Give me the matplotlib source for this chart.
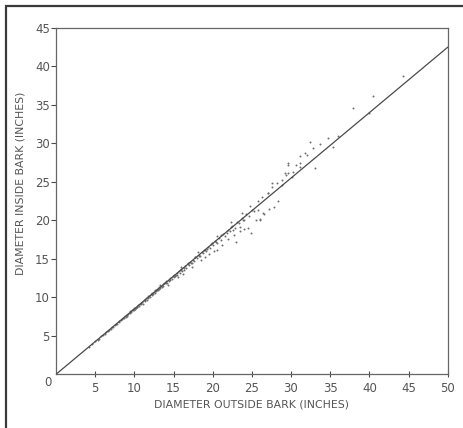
import numpy as np
import matplotlib.pyplot as plt
from matplotlib.patches import Rectangle

# fitted line  d.i.b. = 0.85 * d.o.b.
line_x = [0, 50]
line_y = [0, 42.5]

dob = [
    4.2, 4.6, 5.0, 5.3, 5.5, 5.8, 6.0, 6.2, 6.4, 6.6, 6.8, 7.0, 7.1, 7.3, 7.5,
    7.6, 7.8, 8.0, 8.1, 8.3, 8.4, 8.5, 8.7, 8.8, 9.0, 9.1, 9.2, 9.4, 9.5, 9.6,
    9.8, 9.9, 10.0, 10.1, 10.3, 10.4, 10.5, 10.6, 10.8, 10.9, 11.0, 11.1, 11.2,
    11.3, 11.5, 11.6, 11.7, 11.8, 12.0, 12.1, 12.2, 12.3, 12.4, 12.5, 12.6,
    12.7, 12.8, 12.9, 13.0, 13.1, 13.2, 13.4, 13.5, 13.6, 13.7, 13.8, 14.0,
    14.1, 14.2, 14.4, 14.5, 14.6, 14.8, 15.0, 15.1, 15.2, 15.4, 15.5, 15.7,
    15.8, 16.0, 16.1, 16.3, 16.5, 16.6, 16.8, 17.0, 17.1, 17.3, 17.5, 17.6,
    17.8, 18.0, 18.2, 18.4, 18.6, 18.8, 19.0, 19.2, 19.4, 19.6, 19.8, 20.0,
    20.3, 20.5, 20.8, 21.0, 21.3, 21.6, 21.9, 22.2, 22.5, 22.8, 23.1, 23.4,
    23.7, 24.0, 24.3, 24.6, 25.0, 25.3,
    14.3, 15.6, 16.2, 17.4, 18.5, 19.0, 19.5, 20.2, 20.5, 21.2, 22.0, 22.7,
    23.5, 23.0, 24.5, 24.9, 25.5, 26.0, 26.6, 27.2, 27.8, 28.3, 24.0,
    13.3, 15.9, 18.1, 20.6, 22.4, 23.8, 24.8, 25.8, 26.3, 27.0, 27.6, 28.2,
    28.8, 29.3, 29.6, 30.2, 30.6, 31.2,
    29.2, 29.6, 30.1, 31.1, 31.8, 32.0, 32.4, 32.8, 33.1, 33.7, 34.7, 35.4,
    36.0, 37.9, 39.9, 40.5, 44.3, 29.6, 31.1, 27.6, 28.8, 27.1, 25.8, 26.4,
    26.0, 23.9, 23.5, 22.6,
    8.9, 9.7, 10.2, 10.7, 11.4, 11.9, 12.3, 12.9, 13.3, 13.9, 14.4, 14.9,
    15.3, 15.9, 16.4, 16.9, 17.2, 17.7, 18.3, 18.9, 19.3, 19.9, 20.4, 21.1,
    21.8, 22.3,
]
dib = [
    3.6, 3.9, 4.3, 4.5, 4.6, 5.0, 5.1, 5.2, 5.5, 5.6, 5.8, 5.9, 6.1, 6.2, 6.4,
    6.5, 6.6, 6.9, 6.8, 7.1, 7.2, 7.3, 7.3, 7.6, 7.7, 7.6, 7.9, 8.0, 8.2, 8.1,
    8.4, 8.3, 8.6, 8.5, 8.8, 8.7, 9.0, 8.9, 9.3, 9.1, 9.4, 9.2, 9.6,
    9.5, 9.9, 9.7, 9.9, 10.2, 10.1, 10.4, 10.3, 10.6, 10.4, 10.7, 10.6,
    10.9, 10.8, 11.1, 11.0, 11.3, 11.1, 11.5, 11.4, 11.7, 11.5, 11.9, 11.8,
    12.1, 11.9, 12.3, 12.2, 12.5, 12.4, 12.9, 12.6, 12.8, 13.2, 12.9, 13.4,
    13.2, 13.7, 13.4, 13.6, 14.1, 13.8, 14.3, 14.2, 14.6, 14.5, 14.9, 14.7,
    15.2, 15.1, 15.5, 15.4, 15.9, 15.7, 16.2, 16.0, 16.6, 16.4, 16.9, 16.8,
    17.3, 17.1, 17.7, 17.5, 18.2, 18.0, 18.7, 18.6, 19.3, 19.0, 19.8, 19.6,
    20.3, 20.1, 20.8, 20.6, 21.4, 21.2,
    11.6, 12.6, 13.0, 14.0, 14.8, 15.3, 15.6, 16.0, 16.2, 16.8, 17.6, 18.1,
    18.6, 17.2, 19.0, 18.3, 20.0, 20.2, 20.8, 21.5, 21.7, 22.5, 18.9,
    11.6, 13.9, 15.9, 18.0, 19.8, 21.0, 21.9, 22.5, 23.1, 23.5, 24.3, 24.8,
    25.3, 25.9, 26.2, 26.3, 27.2, 27.4,
    26.2, 27.2, 25.7, 28.4, 28.8, 28.5, 30.2, 29.4, 26.8, 29.9, 30.7, 29.5,
    31.0, 34.6, 33.9, 36.2, 38.8, 27.5, 27.0, 24.9, 24.6, 23.5, 21.3, 20.9,
    20.0, 20.0, 19.2, 18.8,
    7.4, 8.4, 8.6, 9.2, 9.6, 10.2, 10.4, 11.0, 11.2, 11.9, 12.1, 12.8,
    12.9, 13.6, 13.8, 14.5, 14.4, 15.2, 15.4, 16.2, 16.3, 17.1, 17.2, 18.1,
    18.3, 19.1,
]

x_ticks = [5, 10, 15, 20, 25, 30, 35, 40, 45, 50]
y_ticks = [5, 10, 15, 20, 25, 30, 35, 40, 45]

ink = "#4a4a4a"

fig = plt.figure(figsize=(4.63, 4.28), dpi=100)
ax = fig.add_axes([56 / 463, 1 - 374.3 / 428, (447.7 - 56) / 463, (374.3 - 28) / 428])

ax.scatter(dob, dib, s=2.0, color="#6e6e6e", linewidths=0, zorder=2)
ax.plot(line_x, line_y, color=ink, lw=0.9, zorder=3)

ax.set_xlim(0, 50)
ax.set_ylim(0, 45)
ax.set_xticks(x_ticks)
ax.set_yticks(y_ticks)
ax.tick_params(axis="x", direction="inout", length=5, width=0.8, color=ink,
               labelsize=8.5, labelcolor="#555555", pad=3)
ax.tick_params(axis="y", direction="out", length=3.5, width=0.8, color=ink,
               labelsize=8.5, labelcolor="#555555", pad=1)
for s in ax.spines.values():
    s.set_color("#666666")
    s.set_linewidth(0.9)

ax.text(-0.01, -0.006, "0", transform=ax.transAxes, ha="right", va="top",
        fontsize=8.5, color="#555555")

ax.set_xlabel("DIAMETER OUTSIDE BARK (INCHES)", fontsize=7.8, color="#555555", labelpad=3)
ax.set_ylabel("DIAMETER INSIDE BARK (INCHES)", fontsize=7.8, color="#555555")
ax.yaxis.set_label_coords(-0.079, 0.551)

# outer frame of the scanned page
fig.patches.append(Rectangle((6 / 463, -0.05), 1.2, 1 - 6 / 428 + 0.05,
                             transform=fig.transFigure, fill=False,
                             edgecolor="#3a3a3a", lw=1.6))

fig.savefig("out.png", dpi=100)
